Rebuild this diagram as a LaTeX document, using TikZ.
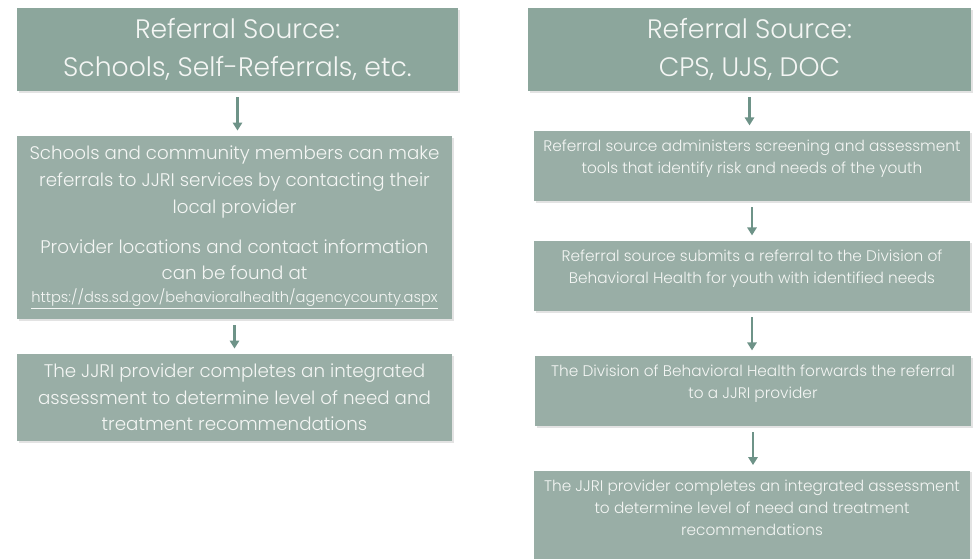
\documentclass[tikz,border=0pt]{standalone}
\usepackage{fontspec}
\setmainfont{Poppins}[UprightFont=* Light]
\usetikzlibrary{arrows.meta,shadows}

\definecolor{headgreen}{HTML}{8CA69C}
\definecolor{boxgreen}{HTML}{99AEA6}
\definecolor{arrowgreen}{HTML}{6E9388}
\definecolor{textwhite}{HTML}{F4F6F4}

\begin{document}
\begin{tikzpicture}[x=0.75pt,y=-0.75pt,
    panel/.style={rectangle,draw=none,inner sep=0pt,text=textwhite,align=center,
      drop shadow={shadow xshift=1.3pt,shadow yshift=-1.3pt,fill=black!22}},
    header/.style={panel,fill=headgreen,minimum height=62pt,
      font=\fontsize{20}{28.5}\selectfont},
    stage/.style={panel,fill=boxgreen,font=\fontsize{13.7}{20}\selectfont},
    step text/.style={inner sep=0pt,anchor=north,text=textwhite,align=center,
      font=\fontsize{11.5}{16.5}\selectfont},
    flow/.style={arrowgreen,line width=1.9pt,-{Triangle[width=7pt,length=6pt]},
      shorten <=4.5pt,shorten >=4pt}]
    \useasboundingbox (0,0) rectangle (976,558);

    % Left column
    \node[header,minimum width=331pt] (H1) at (237.5,49.5)
      {Referral Source:\\Schools, Self-Referrals, etc.};
    \node[stage,minimum width=326pt,minimum height=137pt] (L2) at (234.5,227.5)
      {Schools and community members can make\\
       referrals to JJRI services by contacting their\\
       local provider\\[10pt]
       Provider locations and contact information\\
       can be found at\\[-3pt]
       {\fontsize{11}{12}\selectfont\underline{https://dss.sd.gov/behavioralhealth/agencycounty.aspx}}};
    \node[stage,minimum width=326pt,minimum height=65pt] (L3) at (234.5,397.5)
      {The JJRI provider completes an integrated\\
       assessment to determine level of need and\\
       treatment recommendations};

    % Right column
    \node[header,minimum width=332pt] (H2) at (749.5,49.5)
      {Referral Source:\\CPS, UJS, DOC};
    \node[stage,minimum width=327pt,minimum height=52.5pt] (R1) at (752,166) {};
    \node[stage,minimum width=327pt,minimum height=52.5pt] (R2) at (752,276) {};
    \node[stage,minimum width=327pt,minimum height=52.5pt] (R3) at (753,391) {};
    \node[stage,minimum width=327pt,minimum height=68pt] (R4) at (752,516) {};

    \node[step text] (R1t) at ([yshift=-7pt]R1.north)
      {Referral source administers screening and assessment\\
       tools that identify risk and needs of the youth};
    \node[step text] (R2t) at ([yshift=-7pt]R2.north)
      {Referral source submits a referral to the Division of\\
       Behavioral Health for youth with identified needs};
    \node[step text] (R3t) at ([yshift=-7pt]R3.north)
      {The Division of Behavioral Health forwards the referral\\
       to a JJRI provider};
    \node[step text] (R4t) at ([yshift=-7pt]R4.north)
      {The JJRI provider completes an integrated assessment\\
       to determine level of need and treatment\\
       recommendations};

    % Arrows
    \draw[flow] (H1.south) -- (H1.south |- L2.north);
    \draw[flow] (L2.south) -- (L2.south |- L3.north);
    \draw[flow] (H2.south) -- (H2.south |- R1.north);
    \draw[flow] (R1.south) -- (R1.south |- R2.north);
    \draw[flow] (R2.south) -- (R2.south |- R3.north);
    \draw[flow] (R3.south) -- (R3.south |- R4.north);
\end{tikzpicture}
\end{document}
